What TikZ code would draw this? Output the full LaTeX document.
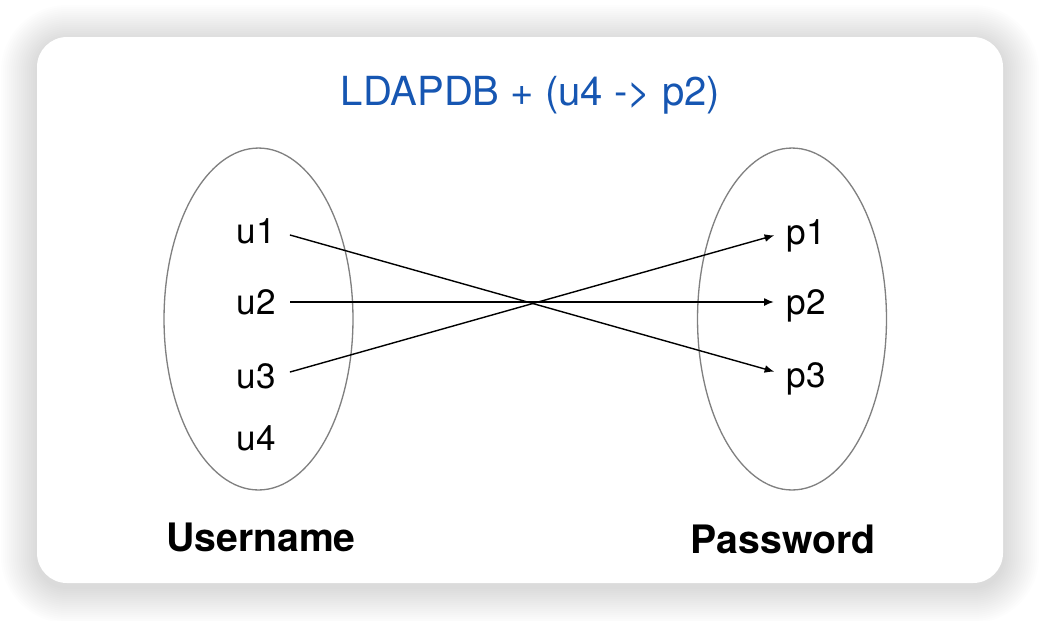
\documentclass[tikz,border=0pt]{standalone}
\usepackage{fontspec}
\setmainfont{TeX Gyre Heros}
\usetikzlibrary{shapes.geometric, arrows.meta}
\definecolor{titleblue}{RGB}{22,86,178}
\definecolor{setgray}{RGB}{128,128,128}
\begin{document}
\begin{tikzpicture}[x=0.02cm, y=-0.02cm,
	elem/.style={font=\fontsize{20}{24}\selectfont, text height=14pt, text depth=0pt, inner sep=0pt},
	setname/.style={font=\fontsize{22.3}{26}\selectfont\bfseries, anchor=base},
	valset/.style={ellipse, draw=setgray, line width=0.75pt, minimum width=3.78cm, minimum height=6.84cm},
	map/.style={-{Latex[length=5.5pt,width=4.5pt]}, line width=0.8pt, shorten <=8.3pt, shorten >=7pt}]
	\useasboundingbox (0,0) rectangle (1040,620);
	\fill[white] (0,0) rectangle (1040,620);
	\foreach \d in {2,4,...,36} {
		\pgfmathsetmacro\rr{0.6+\d*0.02}
		\fill[black, opacity=0.0065, rounded corners=\rr cm] (37-\d,37-\d+4) rectangle (1003+\d,583+\d+4);
	}
	\fill[white, rounded corners=0.6cm] (37,37) rectangle (1003,583);
	\node[font=\fontsize{22.8}{27}\selectfont, text=titleblue, anchor=base] (title) at (530.5,105) {LDAPDB + (u4 -> p2)};
	\node[valset] (users) at (258.5,319) {};
	\node[valset] (passwords) at (792,319) {};
	\node[elem] (u1) at (256,231) {u1};
	\node[elem] (u2) at (256,302) {u2};
	\node[elem] (u3) at (256,376) {u3};
	\node[elem] (u4) at (256,438) {u4};
	\node[elem] (p1) at (806,232) {p1};
	\node[elem] (p2) at (806,302) {p2};
	\node[elem] (p3) at (806,375) {p3};
	\node[setname] (uname) at (261,551) {Username};
	\node[setname] (pword) at (783,553) {Password};
	\draw[map] (u1.east) to (p3.west);
	\draw[map] (u2.east) to (p2.west);
	\draw[map] (u3.east) to (p1.west);
\end{tikzpicture}
\end{document}
